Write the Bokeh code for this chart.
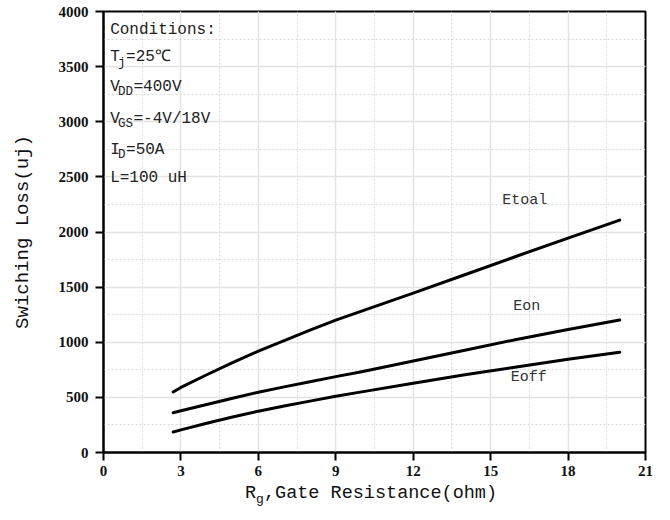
from bokeh.plotting import figure
from bokeh.models import Range1d, SingleIntervalTicker, Label, Div
from bokeh.layouts import column
from bokeh.embed import file_html
from bokeh.resources import INLINE

# ---- data ----
rg = [2.7, 3, 4, 5, 6, 7, 8, 9, 10, 12, 14, 16, 18, 20]
etotal = [549, 590, 705, 815, 920, 1015, 1110, 1200, 1282, 1445, 1612, 1780, 1945, 2108]
eon = [360, 378, 435, 492, 547, 595, 642, 688, 732, 830, 928, 1025, 1115, 1201]
eoff = [186, 205, 265, 322, 375, 422, 466, 510, 550, 628, 705, 775, 845, 910]

series_names = ["Etoal", "Eon", "Eoff"]
series_label_x = [16.32, 16.4, 16.48]
series_label_y = [2288, 1321, 676]

cond_lines = ["Conditions:", "T", "V", "V", "I", "L=100 uH"]
cond_subs = ["", "j", "DD", "GS", "D", ""]
cond_tails = ["", "=25\u2103", "=400V", "=-4V/18V", "=50A", ""]

x_title_main = "R"
x_title_sub = "g"
x_title_rest = ",Gate Resistance(ohm)"
y_title = "Swiching Loss(uj)"

MONO = "Liberation Mono"
SERIF = "Liberation Serif"

# reference pixel -> data helpers (for text placement only)
def dx(px):
    return (px - 103.3) / 26.0

def dy(py):
    return (455.0 - py) / 0.111

p = figure(width=654, height=484, output_backend="svg", toolbar_location=None,
           x_range=Range1d(0, 21), y_range=Range1d(0, 4000),
           min_border_left=103, min_border_right=9, min_border_top=11, min_border_bottom=32)

p.xaxis.ticker = SingleIntervalTicker(interval=3, num_minor_ticks=2)
p.yaxis.ticker = SingleIntervalTicker(interval=500, num_minor_ticks=2)

for ax in (p.xaxis, p.yaxis):
    ax.axis_line_color = "black"
    ax.axis_line_width = 2
    ax.major_tick_line_color = "black"
    ax.major_tick_line_width = 2
    ax.major_tick_in = 0
    ax.major_tick_out = 8
    ax.minor_tick_line_color = None
    ax.major_label_text_font = SERIF
    ax.major_label_text_font_style = "bold"
    ax.major_label_text_font_size = "15px"
    ax.major_label_text_color = "#111111"

p.xaxis.major_label_standoff = 5
p.yaxis.major_label_standoff = 7
p.yaxis.axis_label = y_title
p.yaxis.axis_label_text_font = MONO
p.yaxis.axis_label_text_font_size = "19px"
p.yaxis.axis_label_text_font_style = "normal"
p.yaxis.axis_label_text_color = "#111111"
p.yaxis.axis_label_standoff = 22

p.grid.grid_line_color = "#e3e3e3"
p.grid.grid_line_width = 1.5
p.grid.minor_grid_line_color = "#d9d9d9"
p.grid.minor_grid_line_dash = "2 2"
p.grid.minor_grid_line_width = 1

p.outline_line_color = "black"
p.outline_line_width = 2
p.outline_line_alpha = 1
p.background_fill_color = "white"
p.border_fill_color = "white"

for ys in (etotal, eon, eoff):
    p.line(rg, ys, line_color="black", line_width=3, line_join="round", line_cap="round")

for name, lx, ly in zip(series_names, series_label_x, series_label_y):
    p.add_layout(Label(x=lx, y=ly, text=name, text_font=MONO, text_font_size="15px",
                       text_color="#333333", text_align="center", text_baseline="middle"))

# conditions block
row_py = [30, 57, 87, 119, 150, 179]
for main, sub, tail, py in zip(cond_lines, cond_subs, cond_tails, row_py):
    p.add_layout(Label(x=dx(110), y=dy(py), text=main, text_font=MONO, text_font_size="16px",
                       text_color="#222222", text_align="left", text_baseline="middle"))
    if sub:
        p.add_layout(Label(x=dx(118), y=dy(py + 5.5), text=sub, text_font=MONO,
                           text_font_size="12.5px", text_color="#222222",
                           text_align="left", text_baseline="middle"))
        tail_px = 118 + 7.5 * len(sub) + 0.5
        p.add_layout(Label(x=dx(tail_px), y=dy(py), text=tail, text_font=MONO,
                           text_font_size="16px", text_color="#222222",
                           text_align="left", text_baseline="middle"))

# x axis title with subscript (HTML, below the figure)
xtitle_html = (
    '<div style="font-family:\'Liberation Mono\';font-size:18.5px;color:#111111;'
    'line-height:20px;white-space:nowrap;padding-left:245px;">'
    + x_title_main
    + '<span style="font-size:13px;position:relative;top:5px;">' + x_title_sub + '</span>'
    + x_title_rest + '</div>'
)
div = Div(text=xtitle_html, width=654, height=20, margin=(0, 0, 0, 0))

layout = column(p, div, spacing=0)
open("out.html", "w").write(file_html(layout, INLINE))
